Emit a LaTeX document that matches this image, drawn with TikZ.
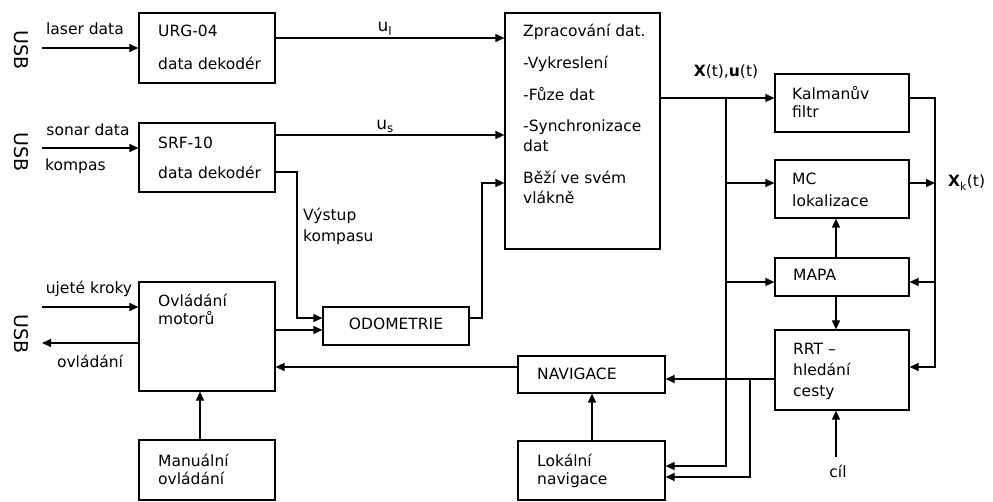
\documentclass[tikz,border=0pt]{standalone}
\usepackage{fontspec}
\setmainfont{DejaVu Sans}
\usetikzlibrary{arrows.meta}
\newcommand{\lbl}{\fontsize{15.5}{18}\selectfont}
\newcommand{\usbfont}{\fontsize{19}{22}\selectfont}

\begin{document}
\begin{tikzpicture}[x=1pt,y=-1pt,
    blok/.style={draw, line width=1.2pt, inner sep=0pt},
    lab/.style={inner sep=0pt, text height=11pt, text depth=3pt, font=\lbl},
    txt/.style={lab, anchor=west},
    usb/.style={inner sep=0pt, rotate=-90, font=\usbfont},
    sip/.style={-{Triangle[length=9pt,width=8pt]}, line width=1.2pt},
    spoj/.style={line width=1.2pt}]
    \useasboundingbox (0,0) rectangle (993,502);

    % bloky
    \node[blok, minimum width=136pt, minimum height=70pt] (urg) at (207,48) {};
    \node[blok, minimum width=136pt, minimum height=69pt] (srf) at (207,157.5) {};
    \node[blok, minimum width=136pt, minimum height=109pt] (ovl) at (207,336.5) {};
    \node[blok, minimum width=136pt, minimum height=60pt] (man) at (207,470) {};
    \node[blok, minimum width=146pt, minimum height=38pt] (odo) at (396,326) {};
    \node[blok, minimum width=155pt, minimum height=236pt] (zpr) at (582.5,131) {};
    \node[blok, minimum width=147pt, minimum height=37pt] (nav) at (591.5,374.5) {};
    \node[blok, minimum width=147pt, minimum height=59pt] (lok) at (591.5,470.5) {};
    \node[blok, minimum width=134pt, minimum height=58pt] (kal) at (842,103) {};
    \node[blok, minimum width=134pt, minimum height=58pt] (mc) at (842,189) {};
    \node[blok, minimum width=134pt, minimum height=38pt] (mapa) at (842,277) {};
    \node[blok, minimum width=134pt, minimum height=80pt] (rrt) at (842,370) {};

    % texty v blocich
    \node[txt] (urg1) at (158,33) {URG-04};
    \node[txt] (urg2) at (158,66) {data dekodér};
    \node[txt] (srf1) at (158,145) {SRF-10};
    \node[txt] (srf2) at (158,175) {data dekodér};
    \node[txt] (ovl1) at (158,303) {Ovládání};
    \node[txt] (ovl2) at (158,321) {motorů};
    \node[txt] (man1) at (158,462) {Manuální};
    \node[txt] (man2) at (158,480) {ovládání};
    \node[lab] (odot) at (odo) {ODOMETRIE};
    \node[txt] (zpr1) at (523,33) {Zpracování dat.};
    \node[txt] (zpr2) at (523,65) {-Vykreslení};
    \node[txt] (zpr3) at (523,97) {-Fůze dat};
    \node[txt] (zpr4) at (523,128) {-Synchronizace};
    \node[txt] (zpr5) at (523,148) {dat};
    \node[txt] (zpr6) at (523,180) {Běží ve svém};
    \node[txt] (zpr7) at (523,200) {vlákně};
    \node[txt] (navt) at (537,376) {NAVIGACE};
    \node[txt] (lok1) at (537,462) {Lokální};
    \node[txt] (lok2) at (537,480) {navigace};
    \node[txt] (kal1) at (792,96) {Kalmanův};
    \node[txt] (kal2) at (792,114) {filtr};
    \node[txt] (mc1) at (792,181) {MC};
    \node[txt] (mc2) at (792,203) {lokalizace};
    \node[txt] (mapat) at (793,277) {MAPA};
    \node[txt] (rrt1) at (793,351) {RRT –};
    \node[txt] (rrt2) at (793,372) {hledání};
    \node[txt] (rrt3) at (793,392) {cesty};

    % popisky
    \node[usb] (usb1) at (21,50) {USB};
    \node[usb] (usb2) at (21,152) {USB};
    \node[usb] (usb3) at (21,334) {USB};
    \node[lab] (laser) at (85,31) {laser data};
    \node[lab] (sonar) at (88,132) {sonar data};
    \node[txt] (kompas) at (45,167) {kompas};
    \node[lab] (kroky) at (89,290) {ujeté kroky};
    \node[lab] (ovlad) at (90,363) {ovládání};
    \node[txt] (vystup1) at (303,217) {Výstup};
    \node[txt] (vystup2) at (303,238) {kompasu};
    \node[lab, font=\fontsize{17}{18}\selectfont] (ul) at (385,28) {u\textsubscript{l}};
    \node[lab, font=\fontsize{17}{18}\selectfont] (us) at (385,126) {u\textsubscript{s}};
    \node[lab] (xut) at (726,73) {\textbf{X}(t),\textbf{u}(t)};
    \node[txt] (xkt) at (948,183) {\textbf{X}\textsubscript{k}(t)};
    \node[lab] (cil) at (838,473) {cíl};

    % pomocne body
    \coordinate (laserin) at (42,48);
    \coordinate (sonarin) at (42,148);
    \coordinate (krokyin) at (42,307);
    \coordinate (ovlout) at (42,343);
    \coordinate (yul) at (0,38);
    \coordinate (yus) at (0,135);
    \coordinate (kompbod) at (297,172);
    \coordinate (yodo) at (0,318);
    \coordinate (ymotor) at (0,330);
    \coordinate (odout) at (482,318);
    \coordinate (yzpr) at (0,183);
    \coordinate (yxu) at (0,98);
    \coordinate (rozv) at (726,98);
    \coordinate (ylokA) at (0,466);
    \coordinate (xk) at (935,98);
    \coordinate (yrrtin) at (0,367);
    \coordinate (ymc) at (0,183);
    \coordinate (ymapa) at (0,282);
    \coordinate (osa) at (836,0);
    \coordinate (cilin) at (836,457);
    \coordinate (yrrt) at (0,379);
    \coordinate (odb) at (750,379);
    \coordinate (ylokB) at (0,477);
    \coordinate (ynav) at (0,367);
    \coordinate (xman) at (200,0);
    \coordinate (xlok) at (592,0);

    % spoje
    \draw[sip] (laserin) -- (urg.west |- laserin);
    \draw[sip] (sonarin) -- (srf.west |- sonarin);
    \draw[sip] (krokyin) -- (ovl.west |- krokyin);
    \draw[sip] (ovl.west |- ovlout) -- (ovlout);
    \draw[sip] (urg.east |- yul) -- (zpr.west |- yul);
    \draw[sip] (srf.east |- yus) -- (zpr.west |- yus);
    \draw[sip] (srf.east |- kompbod) -- (kompbod) |- (odo.west |- yodo);
    \draw[sip] (ovl.east |- ymotor) -- (odo.west |- ymotor);
    \draw[sip] (odo.east |- odout) -- (odout) |- (zpr.west |- yzpr);
    \draw[sip] (zpr.east |- yxu) -- (kal.west |- yxu);
    \draw[sip] (rozv) |- (lok.east |- ylokA);
    \draw[sip] (rozv |- ymc) -- (mc.west |- ymc);
    \draw[sip] (rozv |- ymapa) -- (mapa.west |- ymapa);
    \draw[sip] (kal.east |- xk) -- (xk) |- (rrt.east |- yrrtin);
    \draw[sip] (mc.east |- ymc) -- (xk |- ymc);
    \draw[sip] (xk |- ymapa) -- (mapa.east |- ymapa);
    \draw[sip] (mapa.south -| osa) -- (rrt.north -| osa);
    \draw[sip] (mapa.north -| osa) -- (mc.south -| osa);
    \draw[sip] (cilin) -- (rrt.south -| osa);
    \draw[sip] (rrt.west |- yrrt) -- (nav.east |- yrrt);
    \draw[sip] (odb) |- (lok.east |- ylokB);
    \draw[sip] (nav.west |- ynav) -- (ovl.east |- ynav);
    \draw[sip] (lok.north -| xlok) -- (nav.south -| xlok);
    \draw[sip] (man.north -| xman) -- (ovl.south -| xman);
\end{tikzpicture}
\end{document}
